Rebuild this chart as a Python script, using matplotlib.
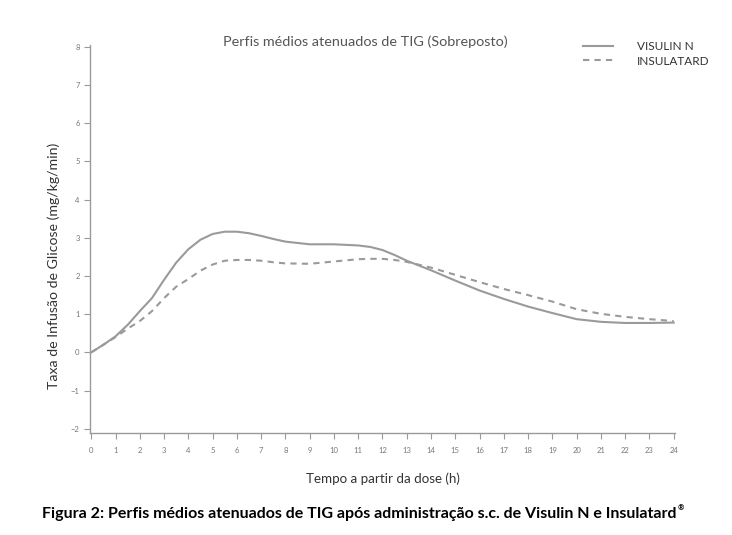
import matplotlib
matplotlib.use("Agg")
import matplotlib.pyplot as plt

hours = [0, 0.5, 1, 1.5, 2, 2.5, 3, 3.5, 4, 4.5, 5, 5.5, 6, 6.5, 7, 7.5, 8, 9, 10, 11, 11.5,
         12, 12.5, 13, 14, 15, 16, 17, 18, 19, 20, 21, 22, 23, 24]
visulin_n = [0.0, 0.20, 0.42, 0.72, 1.08, 1.42, 1.90, 2.35, 2.70, 2.95, 3.10, 3.16, 3.16, 3.12,
             3.05, 2.97, 2.90, 2.83, 2.83, 2.80, 2.76, 2.68, 2.55, 2.40, 2.15, 1.88, 1.62, 1.40,
             1.20, 1.03, 0.87, 0.80, 0.77, 0.77, 0.78]
insulatard = [0.0, 0.20, 0.40, 0.62, 0.82, 1.08, 1.42, 1.72, 1.92, 2.14, 2.30, 2.40, 2.42, 2.42,
              2.40, 2.36, 2.33, 2.32, 2.38, 2.44, 2.45, 2.45, 2.42, 2.37, 2.22, 2.03, 1.84, 1.66,
              1.50, 1.33, 1.13, 1.01, 0.93, 0.87, 0.82]
yticks = list(range(-2, 9))
xticks = list(range(0, 25))

plt.rcParams['font.family'] = ['Lato', 'DejaVu Sans']
grey = '#9a9a9a'
txt = '#555555'

fig = plt.figure(figsize=(7.32, 5.35), dpi=100)
ax = fig.add_axes([0.123, 0.190, 0.799, 0.726])
ax.plot(hours, visulin_n, color=grey, lw=1.5, ls='-', label='VISULIN N')
ax.plot(hours, insulatard, color=grey, lw=1.5, ls=(0, (3, 2.5)), label='INSULATARD')
ax.set_xlim(-0.05, 24.05)
ax.set_ylim(-2.12, 8.05)
ax.set_xticks(xticks)
ax.set_yticks(yticks)
ax.tick_params(axis='both', colors=grey, labelcolor='#777777', labelsize=5.5, length=4, width=0.8)
ax.tick_params(axis='x', pad=6)
for s in ['top', 'right']:
    ax.spines[s].set_visible(False)
for s in ['left', 'bottom']:
    ax.spines[s].set_color(grey)
    ax.spines[s].set_linewidth(1.0)

ax.set_ylabel('Taxa de Infusão de Glicose (mg/kg/min)', fontsize=10.2, color='#333333', labelpad=8,
              y=0.43)
ax.set_xlabel('Tempo a partir da dose (h)', fontsize=9.6, color='#333333', labelpad=13)

fig.text(365/732, 1-42/535, 'Perfis médios atenuados de TIG (Sobreposto)', ha='center', va='center',
         fontsize=10.4, color=txt)

leg = fig.legend(loc='upper left', bbox_to_anchor=(583/732, 1-41/535), frameon=False,
                 fontsize=8.5, handlelength=2.5, handletextpad=2.1, labelspacing=0.3, borderpad=0,
                 borderaxespad=0)
for t in leg.get_texts():
    t.set_color('#333333')

cap = fig.text(42/732, 1-514/535, 'Figura 2: Perfis médios atenuados de TIG após administração s.c. de Visulin N e Insulatard',
               ha='left', va='center', fontsize=11.5, fontweight='bold', color='black')
fig.canvas.draw()
ax.annotate('®', xy=(1, 1), xycoords=cap, xytext=(1, -3), textcoords='offset points',
            fontsize=5.5, fontweight='bold', va='bottom', ha='left')

fig.savefig('out.png', dpi=100)
